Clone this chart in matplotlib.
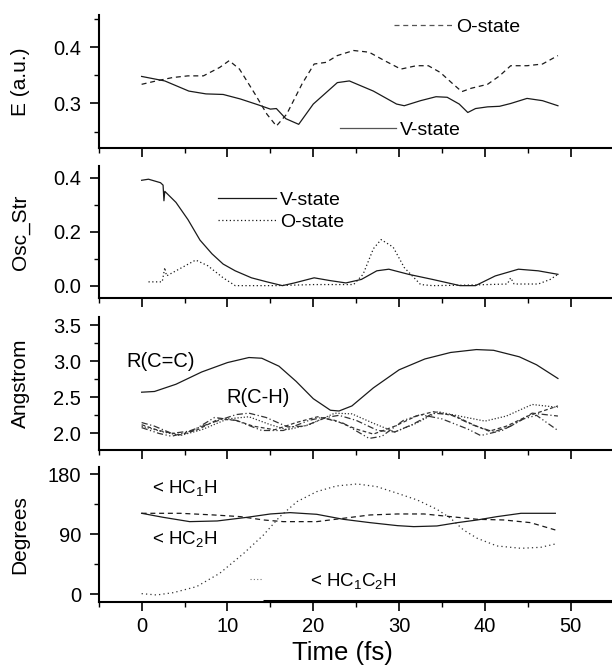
import matplotlib
matplotlib.use("Agg")
import matplotlib.pyplot as plt
from matplotlib.ticker import MultipleLocator, FormatStrFormatter
from matplotlib.lines import Line2D

plt.rcParams["font.family"] = ["Liberation Sans", "DejaVu Sans"]
plt.rcParams["mathtext.fontset"] = "custom"
plt.rcParams["mathtext.rm"] = "Liberation Sans"
plt.rcParams["mathtext.default"] = "regular"

# ---- panel 1: excitation energies (a.u.) ----
E_V_T = [0, 2.7, 5.5, 7.5, 9.5, 11.5, 13.5, 15.0, 15.7, 16.8, 18.3, 20.0, 22.8, 24.2,
         27.0, 29.7, 30.6, 32.5, 34.3, 35.6, 37.0, 38.0, 38.9, 40.3, 41.7, 43.0,
         44.9, 46.7, 48.5]
E_V = [0.348, 0.340, 0.322, 0.317, 0.316, 0.308, 0.298, 0.290, 0.291, 0.273, 0.263,
       0.299, 0.337, 0.340, 0.322, 0.299, 0.296, 0.305, 0.312, 0.311, 0.299, 0.284,
       0.291, 0.294, 0.295, 0.300, 0.309, 0.305, 0.296]
E_O_T = [0, 1.7, 3.6, 5.4, 7.2, 9.1, 10.2, 11.4, 13.2, 14.6, 15.7, 16.9, 18.7, 20.1,
         21.5, 22.8, 24.7, 26.5, 28.3, 30.2, 32.0, 33.4, 34.8, 36.1, 37.3, 38.4, 40.3,
         41.7, 43.0, 44.9, 46.7, 48.5]
E_O = [0.334, 0.340, 0.346, 0.349, 0.349, 0.364, 0.376, 0.361, 0.317, 0.281, 0.260,
       0.281, 0.335, 0.370, 0.373, 0.385, 0.394, 0.391, 0.376, 0.361, 0.367, 0.367,
       0.355, 0.337, 0.321, 0.327, 0.334, 0.349, 0.367, 0.367, 0.370, 0.385]

# ---- panel 2: oscillator strengths ----
F_V_T = [0, 0.8, 2.2, 2.5, 2.6, 2.7, 4.0, 5.4, 6.8, 8.2, 9.5, 10.9, 12.8, 14.6, 16.4,
         17.8, 20.1, 21.9, 23.8, 25.6, 27.4, 28.8, 31.1, 33.9, 37.1, 38.9, 41.2, 43.9,
         46.2, 48.5]
F_V = [0.391, 0.395, 0.382, 0.373, 0.315, 0.350, 0.309, 0.245, 0.169, 0.118, 0.080,
       0.055, 0.029, 0.014, 0.000, 0.010, 0.029, 0.019, 0.010, 0.023, 0.055, 0.061,
       0.042, 0.023, 0.000, 0.000, 0.036, 0.061, 0.055, 0.042]
F_O_T = [0.8, 2.4, 2.7, 2.9, 4.0, 6.3, 7.7, 9.5, 10.9, 15.5, 20.1, 24.7, 25.8, 27.0,
         27.9, 29.3, 30.6, 32.5, 33.9, 38.0, 42.6, 43.0, 43.4, 46.2, 47.6, 48.5]
F_O = [0.014, 0.014, 0.067, 0.036, 0.055, 0.095, 0.074, 0.029, 0.000, 0.000, 0.004,
       0.004, 0.042, 0.137, 0.171, 0.143, 0.067, 0.004, 0.000, 0.002, 0.006, 0.029,
       0.006, 0.006, 0.023, 0.042]

# ---- panel 3: bond lengths ----
R_CC_T = [0, 1.5, 4, 7, 10, 12.5, 14, 16, 18, 20, 22, 23, 24.5, 27, 30, 33, 36, 39,
          41, 44, 46, 48.5]
R_CC = [2.57, 2.58, 2.68, 2.85, 2.98, 3.05, 3.04, 2.93, 2.72, 2.48, 2.32, 2.31, 2.38,
        2.63, 2.88, 3.03, 3.12, 3.16, 3.15, 3.06, 2.95, 2.76]
R_CH1_T = [0, 1.5, 3.5, 5.5, 8, 11, 12.5, 14.5, 17, 19, 21.5, 23, 25, 27.5, 29.5, 31.5,
           34, 36, 38.5, 41, 43, 45.5, 48.5]
R_CH1 = [2.15, 2.10, 2.00, 2.03, 2.14, 2.26, 2.28, 2.22, 2.09, 2.10, 2.22, 2.25, 2.18,
         2.04, 2.02, 2.12, 2.28, 2.26, 2.12, 2.02, 2.10, 2.28, 2.24]
R_CH2_T = [0, 2, 4.5, 6.5, 9, 11, 13, 15.5, 18, 20.5, 22.5, 25, 27, 29.5, 32, 34, 36.5,
           39, 40.5, 42.5, 45, 47, 48.5]
R_CH2 = [2.12, 2.04, 1.98, 2.05, 2.20, 2.18, 2.10, 2.05, 2.15, 2.23, 2.18, 2.06, 1.99,
         2.10, 2.24, 2.30, 2.24, 2.10, 2.03, 2.10, 2.24, 2.32, 2.38]
R_CH3_T = [0, 2.5, 4.5, 7, 10, 12.5, 15, 17, 19.5, 22.5, 24.5, 27, 29.5, 32, 34.5, 37,
           40, 42.5, 45.5, 48.5]
R_CH3 = [2.10, 2.02, 1.97, 2.05, 2.20, 2.23, 2.12, 2.05, 2.12, 2.28, 2.27, 2.14, 2.02,
         2.14, 2.30, 2.24, 2.17, 2.24, 2.40, 2.36]
R_CH4_T = [0, 2, 3.5, 6, 8.5, 11, 14, 16.5, 19.5, 21, 23.5, 26.5, 28, 30.5, 32.5, 35,
           38, 39.5, 42, 44.5, 46, 48.5]
R_CH4 = [2.08, 2.00, 1.96, 2.04, 2.22, 2.18, 2.04, 2.04, 2.18, 2.22, 2.14, 1.93, 1.96,
         2.18, 2.26, 2.20, 2.06, 1.97, 2.04, 2.20, 2.25, 2.04]

# ---- panel 4: angles (degrees) ----
A1_T = [0, 2.5, 5.6, 8.8, 12.3, 15.0, 17.3, 20.4, 23.5, 26.6, 29.8, 31.7, 34.4, 36.8,
        39.1, 41.4, 44.2, 48.2]
A1 = [121.5, 115.5, 109, 110, 115.5, 120.5, 122.5, 120, 112.5, 107.5, 103, 101.5,
      102.5, 107.5, 111.5, 116.5, 121.5, 121.5]
A2_T = [0, 4.5, 8.4, 11.5, 14.2, 16.5, 20.4, 23.5, 26.6, 29.8, 32.9, 36.0, 39.1, 42.2,
        45.3, 48.2]
A2 = [121.5, 121.5, 119, 116.5, 111.5, 109, 109, 114, 119, 120.5, 120.5, 116.5, 112.5,
      111.5, 107.5, 96.5]
A3_T = [0, 1.75, 3.7, 6.4, 9.1, 11.9, 14.2, 16.1, 18.1, 20.4, 22.7, 25.1, 27.4, 29.8,
        32.1, 34.4, 36.0, 37.5, 39.1, 41.4, 44.2, 46.5, 48.2]
A3 = [1, -1, 2.5, 11.5, 31.5, 61.5, 89, 116.5, 139, 154, 162.5, 165.5, 161.5, 151.5,
      141.5, 127.5, 114, 96.5, 84, 72.5, 69, 70.5, 75.5]
# stray marks of the original scan in the last panel
STRAY_DOT_T = [12.6, 14.0]
STRAY_DOT_V = [22.5, 22.5]
BASE_BAR_T = [14.1, 54.8]
BASE_BAR_V = [-10.5, -10.5]

INK = "#1a1a1a"
LW = 0.9

fig = plt.figure(figsize=(6.12, 6.70), dpi=100)
L, R = 98.7 / 612, 1.0
boxes = [(15, 148), (166, 298.3), (316.7, 450), (467.3, 602.3)]
axes = []
for top, bot in boxes:
    ax = fig.add_axes([L, 1 - bot / 670, R - L, (bot - top) / 670])
    axes.append(ax)

for ax in axes:
    ax.set_xlim(-5, 54.8)
    ax.spines["top"].set_visible(False)
    ax.spines["right"].set_visible(False)
    for s in ("left", "bottom"):
        ax.spines[s].set_linewidth(1.5)
    ax.xaxis.set_major_locator(MultipleLocator(10))
    ax.xaxis.set_minor_locator(MultipleLocator(5))
    ax.tick_params(which="major", direction="out", length=6.5, width=1.2,
                   labelsize=14.5, pad=6)
    ax.tick_params(which="minor", direction="out", length=3.5, width=1.0)
    ax.tick_params(axis="x", which="major", pad=4)
for ax in axes[:3]:
    ax.tick_params(axis="x", labelbottom=False)

# panel 1
ax = axes[0]
ax.plot(E_V_T, E_V, color=INK, lw=LW, ls="-")
ax.plot(E_O_T, E_O, color=INK, lw=LW, ls=(0, (4, 3)))
ax.set_ylim(0.221, 0.457)
ax.yaxis.set_major_locator(MultipleLocator(0.1))
ax.yaxis.set_minor_locator(MultipleLocator(0.05))
ax.yaxis.set_major_formatter(FormatStrFormatter("%.1f"))
ax.set_ylabel("E (a.u.)", fontsize=15, va="center")
lg1 = ax.legend([Line2D([], [], color="#555", lw=LW, ls=(0, (4, 3)))], ["O-state"],
                loc="center left", bbox_to_anchor=(0.575, 0.91), frameon=False,
                fontsize=14, handlelength=3.0, handletextpad=0.2,
                borderpad=0, borderaxespad=0)
ax.add_artist(lg1)
ax.legend([Line2D([], [], color="#555", lw=LW)], ["V-state"],
          loc="center left", bbox_to_anchor=(0.47, 0.135), frameon=False,
          fontsize=14, handlelength=2.9, handletextpad=0.2,
          borderpad=0, borderaxespad=0)

# panel 2
ax = axes[1]
ax.plot(F_V_T, F_V, color=INK, lw=LW, ls="-", label="V-state")
ax.plot(F_O_T, F_O, color=INK, lw=LW, ls=(0, (1, 2)), label="O-state")
ax.set_ylim(-0.047, 0.444)
ax.yaxis.set_major_locator(MultipleLocator(0.2))
ax.yaxis.set_minor_locator(MultipleLocator(0.1))
ax.yaxis.set_major_formatter(FormatStrFormatter("%.1f"))
ax.set_ylabel("Osc_Str", fontsize=15, va="center")
ax.legend(loc="center left", bbox_to_anchor=(0.232, 0.66), frameon=False,
          fontsize=14, handlelength=3.0, handletextpad=0.2, labelspacing=0.25,
          borderpad=0, borderaxespad=0)

# panel 3
ax = axes[2]
ax.plot(R_CC_T, R_CC, color=INK, lw=LW, ls="-")
ax.plot(R_CH1_T, R_CH1, color="#333", lw=LW, ls=(0, (5, 2, 1, 2)))
ax.plot(R_CH2_T, R_CH2, color="#333", lw=LW, ls=(0, (3, 2)))
ax.plot(R_CH3_T, R_CH3, color="#333", lw=LW, ls=(0, (1, 1.5)))
ax.plot(R_CH4_T, R_CH4, color="#333", lw=LW, ls=(0, (5, 2, 1, 2, 1, 2)))
ax.set_ylim(1.77, 3.615)
ax.yaxis.set_major_locator(MultipleLocator(0.5))
ax.yaxis.set_minor_locator(MultipleLocator(0.25))
ax.yaxis.set_major_formatter(FormatStrFormatter("%.1f"))
ax.set_ylabel("Angstrom", fontsize=15, va="center")
ax.text(-1.8, 3.0, "R(C=C)", fontsize=14.5, ha="left", va="center")
ax.text(9.9, 2.5, "R(C-H)", fontsize=14.5, ha="left", va="center")

# panel 4
ax = axes[3]
ax.plot(A1_T, A1, color=INK, lw=LW, ls="-")
ax.plot(A2_T, A2, color=INK, lw=LW, ls=(0, (4, 3)))
ax.plot(A3_T, A3, color="#333", lw=LW, ls=(0, (1, 2.5)))
ax.plot(STRAY_DOT_T, STRAY_DOT_V, color="#777", lw=0.8, ls=(0, (1, 2)))
ax.plot(BASE_BAR_T, BASE_BAR_V, color="black", lw=2.2, solid_capstyle="butt",
        clip_on=False)
ax.set_ylim(-12, 190.5)
ax.yaxis.set_major_locator(MultipleLocator(90))
ax.yaxis.set_minor_locator(MultipleLocator(45))
ax.set_ylabel("Degrees", fontsize=15, va="center")
ax.text(1.2, 159, "< HC$_1$H", fontsize=13.5, ha="left", va="center")
ax.text(1.2, 82.5, "< HC$_2$H", fontsize=13.5, ha="left", va="center")
ax.text(19.6, 20.5, "< HC$_1$C$_2$H", fontsize=13.5, ha="left", va="center")

for ax in axes:
    ax.yaxis.set_label_coords(-0.153, 0.5)

fig.text(342 / 612, 1 - 653 / 670, "Time (fs)", fontsize=18.5, ha="center",
         va="center")

fig.savefig("out.png", dpi=100)
